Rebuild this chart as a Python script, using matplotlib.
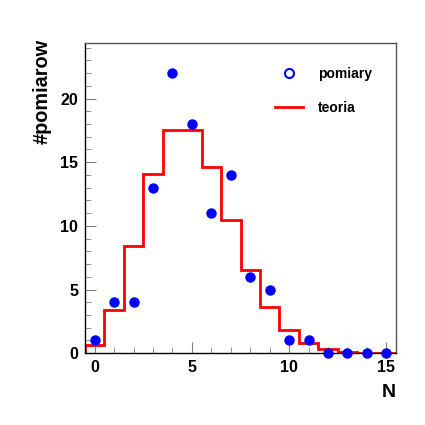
import numpy as np
import matplotlib.pyplot as plt
from matplotlib.ticker import MultipleLocator
from matplotlib.lines import Line2D

plt.rcParams['font.family'] = ['Liberation Sans', 'DejaVu Sans']
plt.rcParams['font.weight'] = 'bold'

# dane
n = np.arange(0, 16)
pomiary = [1, 4, 4, 13, 22, 18, 11, 14, 6, 5, 1, 1, 0, 0, 0, 0]
teoria = [0.67, 3.37, 8.42, 14.04, 17.55, 17.55, 14.62, 10.44,
          6.53, 3.63, 1.81, 0.82, 0.34, 0.13, 0.05, 0.02]

fig = plt.figure(figsize=(4.25, 4.25), dpi=100)
ax = fig.add_axes([0.2, 0.169, 0.732, 0.731])

edges = np.append(n - 0.5, n[-1] + 0.5)
ax.stairs(teoria, edges, color='red', linewidth=2, zorder=2)
ax.plot(n, pomiary, 'o', color='blue', markersize=6.5, zorder=3, clip_on=False)

ax.set_xlim(-0.5, 15.5)
ax.set_ylim(0, 24.4)
ax.xaxis.set_major_locator(MultipleLocator(5))
ax.xaxis.set_minor_locator(MultipleLocator(1))
ax.yaxis.set_major_locator(MultipleLocator(5))
ax.yaxis.set_minor_locator(MultipleLocator(1))
ax.tick_params(which='both', direction='in', top=False, right=False,
               labelsize=11.5, pad=5)
ax.tick_params(which='major', length=8, color='gray')
ax.tick_params(which='minor', length=4, color='gray')
for sp in ax.spines.values():
    sp.set_linewidth(1)
ax.spines['top'].set_color('#555555')
ax.spines['right'].set_color('#555555')

ax.set_ylabel('#pomiarow', fontsize=14.3, fontweight='bold', ha='right', va='center')
ax.yaxis.set_label_coords(-0.138, 1.012)
ax.set_xlabel('N', fontsize=14, fontweight='bold', ha='right', va='center')
ax.xaxis.set_label_coords(1.0, -0.125)

h1 = Line2D([], [], marker='o', linestyle='none', markerfacecolor='white',
            markeredgecolor='blue', markeredgewidth=1.5, markersize=6.5)
h2 = Line2D([], [], color='red', linewidth=2)
ax.legend([h1, h2], ['pomiary', 'teoria'], loc='upper left', frameon=False,
          fontsize=10, labelspacing=1.45, handlelength=2.0, handletextpad=1.1,
          borderpad=0, borderaxespad=0, bbox_to_anchor=(0.611, 0.922))

fig.savefig('out.png', dpi=100)
